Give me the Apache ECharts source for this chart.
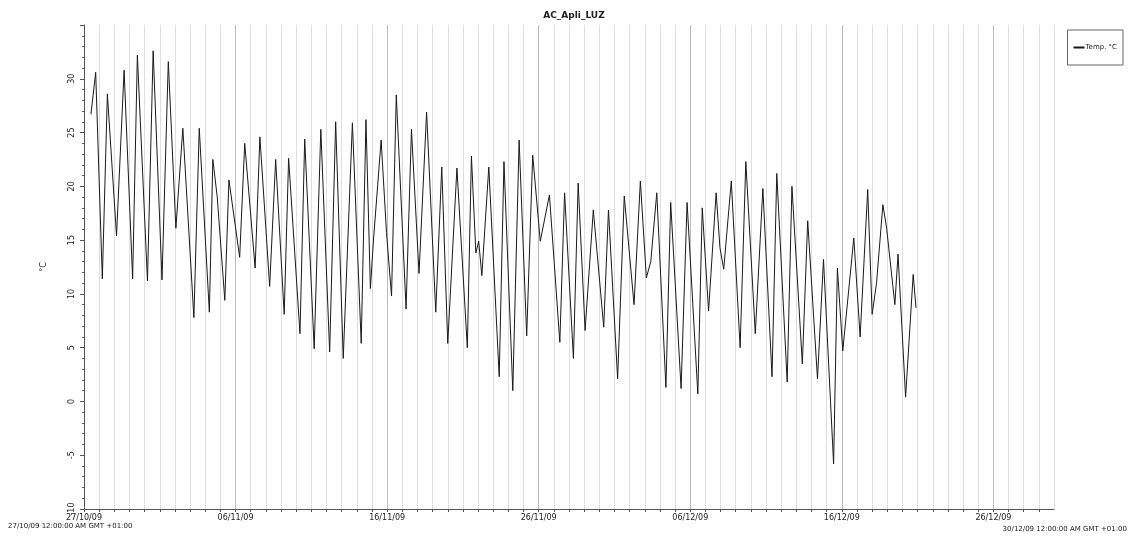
<!DOCTYPE html>
<html>
<head>
<meta charset="utf-8">
<script src="https://cdn.jsdelivr.net/npm/echarts@6/dist/echarts.min.js"></script>
<style>
html,body{margin:0;padding:0;background:#fff;}
#chart{width:1129px;height:538px;}
</style>
</head>
<body>
<div id="chart"></div>
<script>
// ---- data ----
const chartTitle = 'AC_Apli_LUZ';
const seriesName = 'Temp. °C';
const yAxisName = '°C';
const startTime = '2009-10-27T00:00';
const endTime = '2009-12-30T00:00';
const xTickLabels = ['27/10/09','06/11/09','16/11/09','26/11/09','06/12/09','16/12/09','26/12/09'];
const startCaption = '27/10/09 12:00:00 AM GMT +01:00';
const endCaption = '30/12/09 12:00:00 AM GMT +01:00';

const times = [
 '2009-10-27T11:00','2009-10-27T18:30','2009-10-28T05:00','2009-10-28T13:00','2009-10-29T03:30','2009-10-29T15:30',
 '2009-10-30T05:00','2009-10-30T12:30','2009-10-31T04:30','2009-10-31T13:30','2009-11-01T03:30','2009-11-01T13:30',
 '2009-11-02T01:30','2009-11-02T12:30','2009-11-03T06:00','2009-11-03T14:30','2009-11-04T06:30','2009-11-04T12:00',
 '2009-11-04T19:00','2009-11-05T07:00','2009-11-05T13:30','2009-11-06T06:30','2009-11-06T14:30','2009-11-07T07:00',
 '2009-11-07T14:30','2009-11-08T06:00','2009-11-08T15:30','2009-11-09T05:00','2009-11-09T12:00','2009-11-10T06:00',
 '2009-11-10T13:30','2009-11-11T04:30','2009-11-11T15:00','2009-11-12T05:00','2009-11-12T14:30','2009-11-13T02:30',
 '2009-11-13T17:00','2009-11-14T07:00','2009-11-14T14:30','2009-11-14T21:30','2009-11-15T02:30','2009-11-15T14:30',
 '2009-11-15T23:00','2009-11-16T07:00','2009-11-16T14:30','2009-11-17T06:00','2009-11-17T14:30','2009-11-18T02:30',
 '2009-11-18T14:30','2009-11-19T05:00','2009-11-19T14:30','2009-11-20T00:00','2009-11-20T14:30','2009-11-21T07:00',
 '2009-11-21T13:30','2009-11-21T20:30','2009-11-22T01:00','2009-11-22T06:00','2009-11-22T17:00','2009-11-23T09:30',
 '2009-11-23T17:00','2009-11-24T07:00','2009-11-24T17:00','2009-11-25T05:00','2009-11-25T14:30','2009-11-26T02:30',
 '2009-11-26T17:00','2009-11-27T09:30','2009-11-27T17:00','2009-11-28T07:00','2009-11-28T14:30','2009-11-29T01:30',
 '2009-11-29T14:30','2009-11-30T07:00','2009-11-30T14:30','2009-12-01T05:00','2009-12-01T15:30','2009-12-02T07:00',
 '2009-12-02T17:00','2009-12-03T02:30','2009-12-03T09:30','2009-12-03T19:00','2009-12-04T09:30','2009-12-04T17:00',
 '2009-12-05T09:30','2009-12-05T19:00','2009-12-06T12:00','2009-12-06T19:00','2009-12-07T05:00','2009-12-07T17:00',
 '2009-12-07T23:00','2009-12-08T05:00','2009-12-08T17:00','2009-12-09T07:00','2009-12-09T16:00','2009-12-10T07:00',
 '2009-12-10T19:00','2009-12-11T09:30','2009-12-11T17:00','2009-12-12T09:30','2009-12-12T17:00','2009-12-13T09:30',
 '2009-12-13T18:00','2009-12-14T09:30','2009-12-14T19:00','2009-12-15T11:00','2009-12-15T17:00','2009-12-16T01:30',
 '2009-12-16T19:00','2009-12-17T05:00','2009-12-17T17:00','2009-12-18T00:00','2009-12-18T07:00','2009-12-18T17:00',
 '2009-12-18T23:00','2009-12-19T12:00','2009-12-19T17:00','2009-12-20T05:00','2009-12-20T17:00','2009-12-20T21:30'
];
const temps = [
 26.7,30.6,11.4,28.6,15.4,30.8,
 11.4,32.2,11.2,32.6,11.3,31.6,
 16.1,25.4,7.8,25.4,8.3,22.5,
 19.0,9.4,20.6,13.4,24.0,12.4,
 24.6,10.7,22.5,8.1,22.6,6.3,
 24.4,4.9,25.3,4.6,26.0,4.0,
 25.9,5.4,26.2,10.5,15.1,24.3,
 15.7,9.8,28.5,8.6,25.3,11.9,
 26.9,8.3,21.8,5.4,21.7,5.0,
 22.8,13.8,14.9,11.7,21.8,2.3,
 22.3,1.0,24.3,6.1,22.9,14.9,
 19.2,5.5,19.4,4.0,20.3,6.6,
 17.8,6.9,17.8,2.1,19.1,9.0,
 20.5,11.5,13.0,19.4,1.3,18.5,
 1.2,18.5,0.7,18.0,8.4,19.4,
 14.3,12.3,20.5,5.0,22.3,6.3,
 19.8,2.3,21.2,1.8,20.0,3.5,
 16.8,2.1,13.2,-5.8,12.4,4.7,
 15.2,6.0,19.7,8.1,11.0,18.3,
 16.1,9.0,13.7,0.4,11.8,8.7
];

// ---- build ----
const DAY = 86400000;
const t0 = Date.parse(startTime + 'Z');
const toDay = t => (Date.parse(t + 'Z') - t0) / DAY;
const xMax = toDay(endTime);
const seriesData = times.map((t, i) => [toDay(t), temps[i]]);

const FONT = 'DejaVu Sans';
const gridColors = [];
for (let i = 0; i < 10; i++) gridColors.push(i === 0 ? '#bdbdbd' : '#dedede');

const chart = echarts.init(document.getElementById('chart'), null, {renderer: 'canvas'});
chart.setOption({
  animation: false,
  backgroundColor: '#ffffff',
  title: {
    text: chartTitle,
    left: 569, textAlign: 'center', top: 6,
    textStyle: {fontFamily: FONT, fontSize: 9, fontWeight: 'bold', color: '#222'}
  },
  legend: {
    right: 6, top: 30,
    orient: 'vertical',
    borderColor: '#666', borderWidth: 1,
    padding: [14, 6, 14, 6],
    itemWidth: 11, itemHeight: 2, itemGap: 4,
    icon: 'rect',
    textStyle: {fontFamily: FONT, fontSize: 7, color: '#222', padding: [0, 0, 0, -4]},
    data: [seriesName]
  },
  grid: {left: 84, right: 75, top: 25, bottom: 29, containLabel: false},
  xAxis: {
    type: 'value',
    min: 0, max: xMax, interval: 1,
    axisLine: {show: true, onZero: false, lineStyle: {color: '#555', width: 1}},
    axisTick: {show: true, length: 3, lineStyle: {color: '#555'}},
    axisLabel: {
      show: true, fontFamily: FONT, fontSize: 8, color: '#222', margin: 5,
      showMinLabel: true, showMaxLabel: false, hideOverlap: false,
      formatter: v => (Math.round(v) % 10 === 0 && xTickLabels[Math.round(v) / 10]) ? xTickLabels[Math.round(v) / 10] : ''
    },
    splitLine: {show: true, lineStyle: {color: gridColors, width: 1}}
  },
  yAxis: {
    type: 'value',
    min: -10, max: 35, interval: 5,
    name: yAxisName, nameLocation: 'middle', nameGap: 36, nameRotate: 90,
    nameTextStyle: {fontFamily: FONT, fontSize: 8, color: '#222'},
    axisLine: {show: true, onZero: false, lineStyle: {color: '#555', width: 1}},
    axisTick: {show: true, length: 4, lineStyle: {color: '#555'}},
    minorTick: {show: true, splitNumber: 5, length: 2, lineStyle: {color: '#666'}},
    axisLabel: {fontFamily: FONT, fontSize: 8, color: '#222', rotate: 90, margin: 8,
      showMaxLabel: false},
    splitLine: {show: false}
  },
  series: [{
    name: seriesName,
    type: 'line',
    data: seriesData,
    showSymbol: false,
    symbol: 'none',
    lineStyle: {color: '#1a1a1a', width: 1},
    itemStyle: {color: '#1a1a1a'}
  }],
  graphic: [
    {type: 'text', left: 8, top: 523, style: {text: startCaption, font: '7px "DejaVu Sans"', fill: '#222'}},
    {type: 'text', right: 2, top: 526, style: {text: endCaption, font: '7px "DejaVu Sans"', fill: '#222'}}
  ]
});
</script>
</body>
</html>
